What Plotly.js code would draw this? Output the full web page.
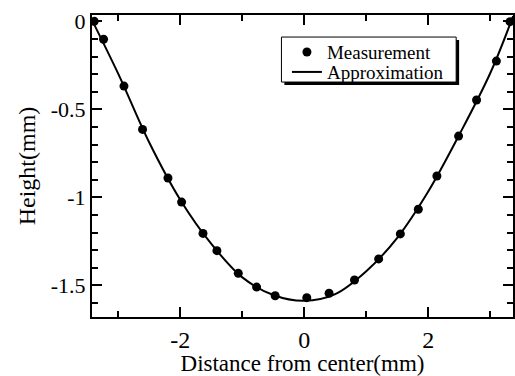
<!DOCTYPE html>
<html>
<head>
<meta charset="utf-8">
<script src="https://cdn.plot.ly/plotly-3.0.1.min.js"></script>
<style>
  html, body { margin: 0; padding: 0; background: #fff; }
  #chart { width: 515px; height: 376px; }
</style>
</head>
<body>
<div id="chart"></div>
<script>
// Measured points (distance from center in mm, height in mm)
const measX = [-3.39, -3.24, -2.91, -2.61, -2.20, -1.98, -1.635, -1.41, -1.065, -0.77, -0.47, 0.04,
               0.40, 0.81, 1.20, 1.55, 1.84, 2.14, 2.49, 2.78, 3.10, 3.32];
const measY = [0.0, -0.102, -0.368, -0.614, -0.89, -1.027, -1.205, -1.303, -1.432, -1.51, -1.559, -1.57,
               -1.545, -1.47, -1.35, -1.208, -1.068, -0.879, -0.652, -0.447, -0.226, -0.002];

// Approximation curve
const approxX = [-3.43, -3.0, -2.5, -2.0, -1.5, -1.0, -0.5, 0.0, 0.5, 1.0, 1.5, 2.0, 2.5, 3.0, 3.37];
const approxY = [0.01, -0.30, -0.69, -1.015, -1.265, -1.455, -1.555, -1.588, -1.55, -1.42, -1.23, -0.967, -0.645, -0.295, 0.03];

// Tick labels (hyphen minus as in the original)
const xTickVals = [-2, 0, 2];
const xTickText = ['-2', '0', '2'];
const yTickVals = [0, -0.5, -1, -1.5];
const yTickText = ['0', '-0.5', '-1', '-1.5'];

const serif = 'Liberation Serif, Times New Roman, serif';

const traces = [
  {
    x: measX, y: measY, type: 'scatter', mode: 'markers', name: 'Measurement',
    marker: { color: '#000', size: 9, symbol: 'circle' }, legend: 'legend'
  },
  {
    x: approxX, y: approxY, type: 'scatter', mode: 'lines', name: 'Approximation',
    line: { color: '#000', width: 2, shape: 'spline', smoothing: 1 }, legend: 'legend2'
  }
];

const legendStyle = (y) => ({
  x: 0.463, y: y, xanchor: 'left', yanchor: 'middle',
  bgcolor: 'rgba(0,0,0,0)', borderwidth: 0,
  font: { family: serif, size: 19, color: '#000' }
});

const layout = {
  width: 515, height: 376,
  margin: { l: 92, r: 2, t: 15, b: 59 },
  paper_bgcolor: '#fff', plot_bgcolor: '#fff',
  font: { family: serif, color: '#000', size: 20 },
  showlegend: true,
  legend: legendStyle(0.877),
  legend2: legendStyle(0.811),
  xaxis: {
    range: [-3.426, 3.368],
    showgrid: false, zeroline: false,
    showline: true, linecolor: '#000', linewidth: 2, mirror: 'ticks',
    ticks: 'inside', ticklen: 10, tickwidth: 2, tickcolor: '#000',
    tickmode: 'array', tickvals: xTickVals, ticktext: xTickText,
    minor: { tickmode: 'linear', dtick: 1, tick0: 0, ticks: 'inside', ticklen: 6, tickwidth: 2, tickcolor: '#000', showgrid: false },
    tickfont: { family: serif, size: 24, color: '#000' },
    title: { text: 'Distance from center(mm)', font: { family: serif, size: 23, color: '#000' }, standoff: 4 }
  },
  yaxis: {
    range: [-1.68, 0.036],
    showgrid: false, zeroline: false,
    showline: true, linecolor: '#000', linewidth: 2, mirror: 'ticks',
    ticks: 'inside', ticklen: 10, tickwidth: 2, tickcolor: '#000',
    tickmode: 'array', tickvals: yTickVals, ticktext: yTickText,
    minor: { tickmode: 'linear', dtick: 0.1, tick0: 0, ticks: 'inside', ticklen: 6, tickwidth: 2, tickcolor: '#000', showgrid: false },
    tickfont: { family: serif, size: 22, color: '#000' },
    title: { text: 'Height(mm)', font: { family: serif, size: 24, color: '#000' }, standoff: 8 }
  },
  shapes: [
    { type: 'rect', xref: 'paper', yref: 'paper', x0: 0.457, x1: 0.872, y0: 0.768, y1: 0.917,
      fillcolor: '#000', line: { width: 0 }, layer: 'above' },
    { type: 'rect', xref: 'paper', yref: 'paper', x0: 0.450, x1: 0.865, y0: 0.778, y1: 0.927,
      fillcolor: '#fff', line: { color: '#000', width: 1 }, layer: 'above' }
  ]
};

Plotly.newPlot('chart', traces, layout, { displayModeBar: false, staticPlot: true });
</script>
</body>
</html>
